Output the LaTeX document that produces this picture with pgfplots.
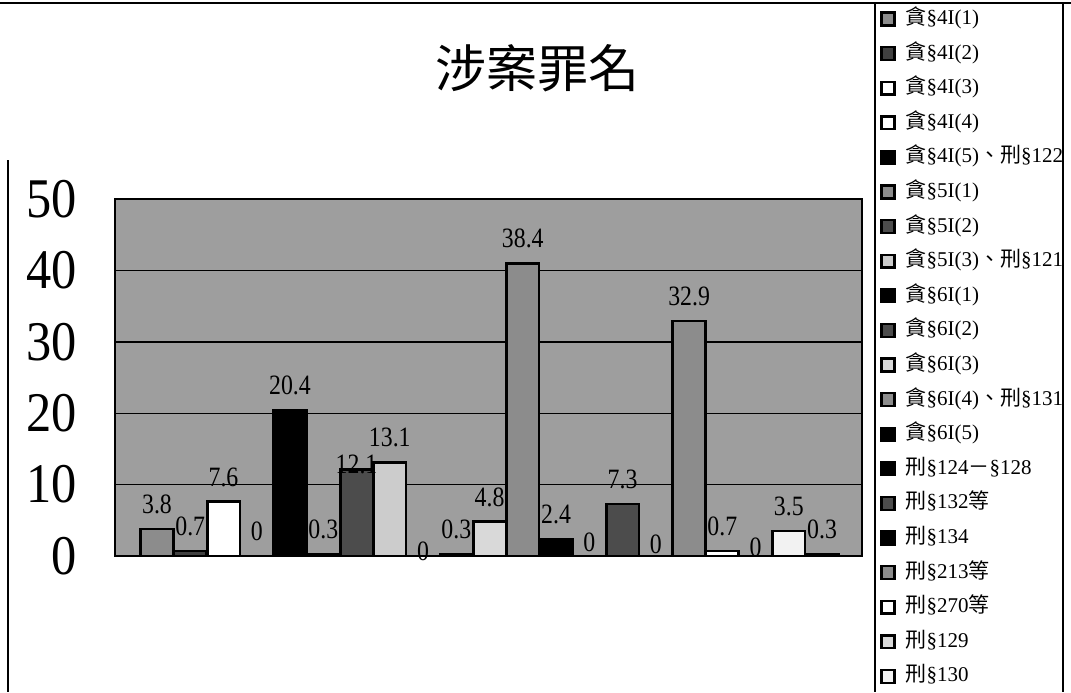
\documentclass[border=0pt]{standalone}
\usepackage{fontspec}
\setmainfont{Liberation Serif}
\newfontfamily\cjk{Noto Sans CJK TC}
\newfontfamily\narrowserif[FakeStretch=0.85]{Liberation Serif}
\newfontfamily\tickserif[FakeStretch=0.9]{Liberation Serif}
\usepackage{pgfplots}
\pgfplotsset{compat=1.18}
\newcommand\zh[1]{{\cjk #1}}

\begin{document}
\begin{tikzpicture}
\useasboundingbox (0,0) rectangle (535.5pt,-346pt);
% chart area and legend frame
\draw[line width=0.6pt] (0,-1.5pt) -- (535.5pt,-1.5pt);
\draw[line width=0.6pt] (4pt,-80pt) -- (4pt,-346pt);
\draw[line width=0.6pt] (437.5pt,-1.5pt) -- (437.5pt,-346pt);
\draw[line width=0.6pt] (531.5pt,-1.5pt) -- (531.5pt,-346pt);
\begin{axis}[
  at={(57.5pt,-278pt)}, anchor=south west,
  scale only axis, width=373.5pt, height=178.5pt,
  xmin=-0.263, xmax=22.2, ymin=0, ymax=50,
  ybar, bar width=0.98,
  every axis plot/.append style={bar shift=0pt, draw=black, line width=1.3pt},
  xtick=\empty, ytick={0,10,...,50},
  major tick length=0pt,
  ymajorgrids, grid style={black, line width=0.7pt},
  axis line style={black, line width=0.8pt},
  axis background/.style={fill=black!38},
  yticklabel style={font=\tickserif\fontsize{28}{28}\selectfont, inner sep=0pt, xshift=-19pt},
  /pgf/number format/assume math mode=true,
  point meta=explicit,
  nodes near coords,
  every node near coord/.append style={font=\narrowserif\fontsize{14}{14}\selectfont, inner sep=0pt, anchor=south, yshift=7pt},
  title={\zh{涉案罪名}},
  title style={at={(axis description cs:0.566,1.333)}, anchor=center, font=\fontsize{25.5}{25.5}\selectfont},
  legend style={at={(axis description cs:1.0241,1.535)}, anchor=north west, draw=none, fill=none,
    inner sep=0pt, row sep=6.8pt, column sep=5pt, font=\fontsize{10.5}{10.5}\selectfont,
    nodes={inner sep=0pt, text height=8pt, text depth=2.5pt}, cells={anchor=west}},
  legend image code/.code={\draw[#1,/tikz/.cd, draw=black, line width=1.2pt] (0pt,-3.2pt) rectangle (6.4pt,3.2pt);},
  clip=false,
]
\addplot[fill=black!45] coordinates {(1,3.8) [3.8]};
\addlegendentry{\zh{貪}§4I(1)}
\addplot[fill=black!75] coordinates {(2,0.7) [0.7]};
\addlegendentry{\zh{貪}§4I(2)}
\addplot[fill=white] coordinates {(3,7.6) [7.6]};
\addlegendentry{\zh{貪}§4I(3)}
\addplot[fill=white] coordinates {(4,0) [0]};
\addlegendentry{\zh{貪}§4I(4)}
\addplot[fill=black] coordinates {(5,20.4) [20.4]};
\addlegendentry{\zh{貪}§4I(5)\zh{、刑}§122}
\addplot[fill=black!45] coordinates {(6,0.3) [0.3]};
\addlegendentry{\zh{貪}§5I(1)}
\addplot[fill=black!70, every node near coord/.append style={yshift=-10pt}] coordinates {(7,12.1) [12.1]};
\addlegendentry{\zh{貪}§5I(2)}
\addplot[fill=black!20] coordinates {(8,13.1) [13.1]};
\addlegendentry{\zh{貪}§5I(3)\zh{、刑}§121}
\addplot[fill=black, every node near coord/.append style={yshift=-10pt}] coordinates {(9,0) [0]};
\addlegendentry{\zh{貪}§6I(1)}
\addplot[fill=black!70] coordinates {(10,0.3) [0.3]};
\addlegendentry{\zh{貪}§6I(2)}
\addplot[fill=black!15] coordinates {(11,4.8) [4.8]};
\addlegendentry{\zh{貪}§6I(3)}
\addplot[fill=black!45] coordinates {(12,41) [38.4]};
\addlegendentry{\zh{貪}§6I(4)\zh{、刑}§131}
\addplot[fill=black] coordinates {(13,2.4) [2.4]};
\addlegendentry{\zh{貪}§6I(5)}
\addplot[fill=black, every node near coord/.append style={yshift=-5.5pt}] coordinates {(14,0) [0]};
\addlegendentry{\zh{刑}§124\zh{－}§128}
\addplot[fill=black!70] coordinates {(15,7.3) [7.3]};
\addlegendentry{\zh{刑}§132\zh{等}}
\addplot[fill=black, every node near coord/.append style={yshift=-6.5pt}] coordinates {(16,0) [0]};
\addlegendentry{\zh{刑}§134}
\addplot[fill=black!45] coordinates {(17,32.9) [32.9]};
\addlegendentry{\zh{刑}§213\zh{等}}
\addplot[fill=white] coordinates {(18,0.7) [0.7]};
\addlegendentry{\zh{刑}§270\zh{等}}
\addplot[fill=black!15, every node near coord/.append style={yshift=-8pt}] coordinates {(19,0) [0]};
\addlegendentry{\zh{刑}§129}
\addplot[fill=black!5] coordinates {(20,3.5) [3.5]};
\addlegendentry{\zh{刑}§130}
\addplot[fill=black!20, forget plot] coordinates {(21,0.3) [0.3]};
\end{axis}
\end{tikzpicture}
\end{document}
